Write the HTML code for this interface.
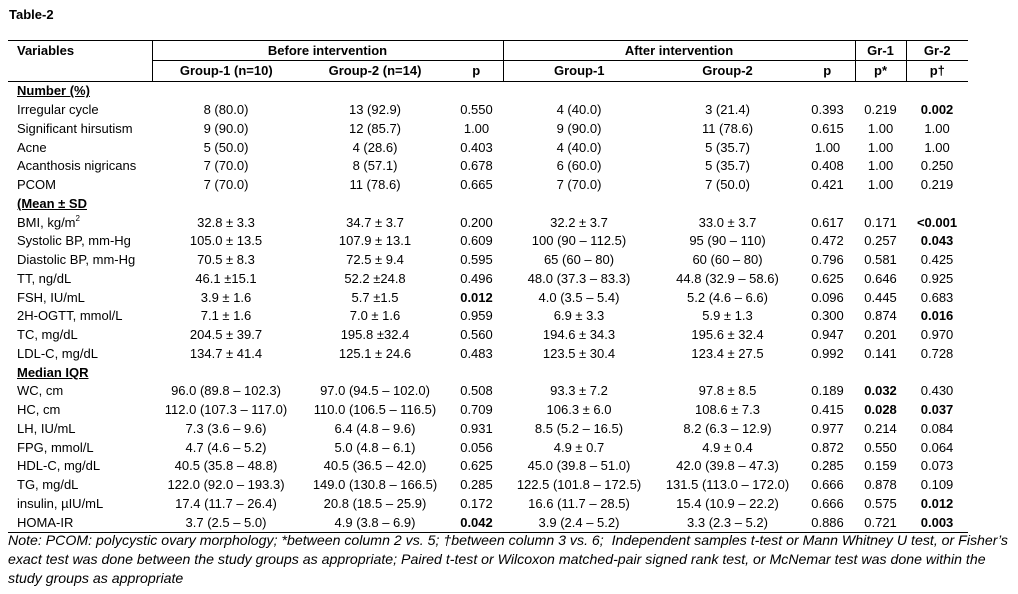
<!DOCTYPE html>
<html><head><meta charset="utf-8"><style>
body{margin:0;background:#fff;width:1018px;height:594px;overflow:hidden;font-family:"Liberation Sans",sans-serif;font-size:13px;color:#000;}
.title{position:absolute;left:9px;top:7px;font-weight:bold;font-size:13px;}
table{position:absolute;left:8px;top:40px;border-collapse:collapse;table-layout:fixed;width:960px;}
td{padding:0;text-align:center;white-space:nowrap;height:18.75px;line-height:18px;}
td:first-child{text-align:left;padding-left:9px;}
tr.h1 td{height:19px;border-top:1.5px solid #000;font-weight:bold;}
tr.h2 td{height:20px;border-top:1px solid #000;border-bottom:1.5px solid #000;font-weight:bold;}
.vl{border-right:1px solid #000;}
tr.last td{border-bottom:1.5px solid #000;}
b{font-weight:bold;}
sup{font-size:8px;line-height:0;vertical-align:6px;}
.sec{font-weight:bold;text-decoration:underline;}
.note{position:absolute;left:8px;top:531px;font-style:italic;font-size:14px;line-height:19px;white-space:nowrap;transform:scaleX(1.01);transform-origin:left top;}
</style></head><body>
<div class="title">Table-2</div>
<table>
<colgroup><col style="width:144px"><col style="width:148px"><col style="width:150px"><col style="width:53px"><col style="width:152px"><col style="width:145px"><col style="width:55px"><col style="width:51px"><col style="width:62px"></colgroup>
<tr class="h1"><td class="vl">Variables</td><td colspan="3" class="vl">Before intervention</td><td colspan="3" class="vl">After intervention</td><td class="vl">Gr-1</td><td>Gr-2</td></tr>
<tr class="h2"><td class="vl" style="border-top:none"></td><td>Group-1 (n=10)</td><td>Group-2 (n=14)</td><td class="vl">p</td><td>Group-1</td><td>Group-2</td><td class="vl">p</td><td class="vl">p*</td><td>p†</td></tr>
<tr><td class="sec">Number (%)</td><td></td><td></td><td></td><td></td><td></td><td></td><td></td><td></td></tr>
<tr><td>Irregular cycle</td><td>8 (80.0)</td><td>13 (92.9)</td><td>0.550</td><td>4 (40.0)</td><td>3 (21.4)</td><td>0.393</td><td>0.219</td><td><b>0.002</b></td></tr>
<tr><td>Significant hirsutism</td><td>9 (90.0)</td><td>12 (85.7)</td><td>1.00</td><td>9 (90.0)</td><td>11 (78.6)</td><td>0.615</td><td>1.00</td><td>1.00</td></tr>
<tr><td>Acne</td><td>5 (50.0)</td><td>4 (28.6)</td><td>0.403</td><td>4 (40.0)</td><td>5 (35.7)</td><td>1.00</td><td>1.00</td><td>1.00</td></tr>
<tr><td>Acanthosis nigricans</td><td>7 (70.0)</td><td>8 (57.1)</td><td>0.678</td><td>6 (60.0)</td><td>5 (35.7)</td><td>0.408</td><td>1.00</td><td>0.250</td></tr>
<tr><td>PCOM</td><td>7 (70.0)</td><td>11 (78.6)</td><td>0.665</td><td>7 (70.0)</td><td>7 (50.0)</td><td>0.421</td><td>1.00</td><td>0.219</td></tr>
<tr><td class="sec">(Mean ± SD</td><td></td><td></td><td></td><td></td><td></td><td></td><td></td><td></td></tr>
<tr><td>BMI, kg/m<sup>2</sup></td><td>32.8 ± 3.3</td><td>34.7 ± 3.7</td><td>0.200</td><td>32.2 ± 3.7</td><td>33.0 ± 3.7</td><td>0.617</td><td>0.171</td><td><b>&lt;0.001</b></td></tr>
<tr><td>Systolic BP, mm-Hg</td><td>105.0 ± 13.5</td><td>107.9 ± 13.1</td><td>0.609</td><td>100 (90 – 112.5)</td><td>95 (90 – 110)</td><td>0.472</td><td>0.257</td><td><b>0.043</b></td></tr>
<tr><td>Diastolic BP, mm-Hg</td><td>70.5 ± 8.3</td><td>72.5 ± 9.4</td><td>0.595</td><td>65 (60 – 80)</td><td>60 (60 – 80)</td><td>0.796</td><td>0.581</td><td>0.425</td></tr>
<tr><td>TT, ng/dL</td><td>46.1 ±15.1</td><td>52.2 ±24.8</td><td>0.496</td><td>48.0 (37.3 – 83.3)</td><td>44.8 (32.9 – 58.6)</td><td>0.625</td><td>0.646</td><td>0.925</td></tr>
<tr><td>FSH, IU/mL</td><td>3.9 ± 1.6</td><td>5.7 ±1.5</td><td><b>0.012</b></td><td>4.0 (3.5 – 5.4)</td><td>5.2 (4.6 – 6.6)</td><td>0.096</td><td>0.445</td><td>0.683</td></tr>
<tr><td>2H-OGTT, mmol/L</td><td>7.1 ± 1.6</td><td>7.0 ± 1.6</td><td>0.959</td><td>6.9 ± 3.3</td><td>5.9 ± 1.3</td><td>0.300</td><td>0.874</td><td><b>0.016</b></td></tr>
<tr><td>TC, mg/dL</td><td>204.5 ± 39.7</td><td>195.8 ±32.4</td><td>0.560</td><td>194.6 ± 34.3</td><td>195.6 ± 32.4</td><td>0.947</td><td>0.201</td><td>0.970</td></tr>
<tr><td>LDL-C, mg/dL</td><td>134.7 ± 41.4</td><td>125.1 ± 24.6</td><td>0.483</td><td>123.5 ± 30.4</td><td>123.4 ± 27.5</td><td>0.992</td><td>0.141</td><td>0.728</td></tr>
<tr><td class="sec">Median IQR</td><td></td><td></td><td></td><td></td><td></td><td></td><td></td><td></td></tr>
<tr><td>WC, cm</td><td>96.0 (89.8 – 102.3)</td><td>97.0 (94.5 – 102.0)</td><td>0.508</td><td>93.3 ± 7.2</td><td>97.8 ± 8.5</td><td>0.189</td><td><b>0.032</b></td><td>0.430</td></tr>
<tr><td>HC, cm</td><td>112.0 (107.3 – 117.0)</td><td>110.0 (106.5 – 116.5)</td><td>0.709</td><td>106.3 ± 6.0</td><td>108.6 ± 7.3</td><td>0.415</td><td><b>0.028</b></td><td><b>0.037</b></td></tr>
<tr><td>LH, IU/mL</td><td>7.3 (3.6 – 9.6)</td><td>6.4 (4.8 – 9.6)</td><td>0.931</td><td>8.5 (5.2 – 16.5)</td><td>8.2 (6.3 – 12.9)</td><td>0.977</td><td>0.214</td><td>0.084</td></tr>
<tr><td>FPG, mmol/L</td><td>4.7 (4.6 – 5.2)</td><td>5.0 (4.8 – 6.1)</td><td>0.056</td><td>4.9 ± 0.7</td><td>4.9 ± 0.4</td><td>0.872</td><td>0.550</td><td>0.064</td></tr>
<tr><td>HDL-C, mg/dL</td><td>40.5 (35.8 – 48.8)</td><td>40.5 (36.5 – 42.0)</td><td>0.625</td><td>45.0 (39.8 – 51.0)</td><td>42.0 (39.8 – 47.3)</td><td>0.285</td><td>0.159</td><td>0.073</td></tr>
<tr><td>TG, mg/dL</td><td>122.0 (92.0 – 193.3)</td><td>149.0 (130.8 – 166.5)</td><td>0.285</td><td>122.5 (101.8 – 172.5)</td><td>131.5 (113.0 – 172.0)</td><td>0.666</td><td>0.878</td><td>0.109</td></tr>
<tr><td>insulin, µIU/mL</td><td>17.4 (11.7 – 26.4)</td><td>20.8 (18.5 – 25.9)</td><td>0.172</td><td>16.6 (11.7 – 28.5)</td><td>15.4 (10.9 – 22.2)</td><td>0.666</td><td>0.575</td><td><b>0.012</b></td></tr>
<tr class="last"><td>HOMA-IR</td><td>3.7 (2.5 – 5.0)</td><td>4.9 (3.8 – 6.9)</td><td><b>0.042</b></td><td>3.9 (2.4 – 5.2)</td><td>3.3 (2.3 – 5.2)</td><td>0.886</td><td>0.721</td><td><b>0.003</b></td></tr>
</table>
<div class="note">Note: PCOM: polycystic ovary morphology; *between column 2 vs. 5; †between column 3 vs. 6;&nbsp; Independent samples t-test or Mann Whitney U test, or Fisher’s<br>exact test was done between the study groups as appropriate; Paired t-test or Wilcoxon matched-pair signed rank test, or McNemar test was done within the<br>study groups as appropriate</div>
</body></html>
